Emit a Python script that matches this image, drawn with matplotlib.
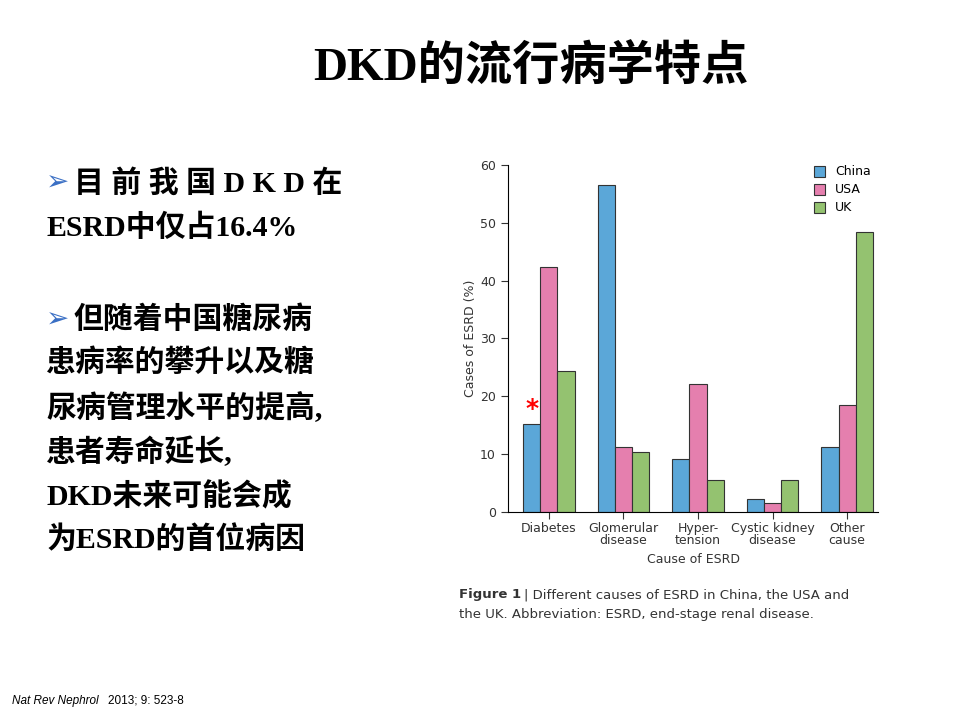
import matplotlib
matplotlib.use("Agg")
import matplotlib.pyplot as plt
import numpy as np

causes = ["Diabetes", "Glomerular\ndisease", "Hyper-\ntension", "Cystic kidney\ndisease", "Other\ncause"]
countries = ["China", "USA", "UK"]
china = [15.2, 56.6, 9.2, 2.3, 11.2]
usa = [42.3, 11.2, 22.1, 1.6, 18.4]
uk = [24.3, 10.3, 5.6, 5.6, 48.4]
y_ticks = [0, 10, 20, 30, 40, 50, 60]

COLORS = ["#5ba7d8", "#e57fae", "#94c270"]
EDGE = "#333333"
CJK = ["Liberation Serif", "Noto Sans CJK SC", "DejaVu Sans"]

fig = plt.figure(figsize=(9.6, 7.2), dpi=100)

fig.text(0.553, 0.905, "DKD的流行病学特点", ha="center", va="center",
         fontsize=34, fontweight="bold", family=CJK)

lines = [
    (183, "目 前 我 国 D K D 在", True),
    (228, "ESRD中仅占16.4%", False),
    (320, "但随着中国糖尿病", True),
    (363, "患病率的攀升以及糖", False),
    (407, "尿病管理水平的提高,", False),
    (452, "患者寿命延长,", False),
    (497, "DKD未来可能会成", False),
    (540, "为ESRD的首位病因", False),
]
for ypx, txt, arrow in lines:
    y = 1 - ypx / 720
    x = 0.048
    if arrow:
        fig.text(x, y, "➢", ha="left", va="center", fontsize=20,
                 color="#3a6fc4", family=["DejaVu Sans"])
        x = 0.077
    fig.text(x, y, txt, ha="left", va="center", fontsize=21.5,
             fontweight="bold", family=CJK)

fig.text(0.012, 0.027, "Nat Rev Nephrol", ha="left", va="center", fontsize=8.5,
         style="italic", family=["Liberation Sans"])
fig.text(0.112, 0.027, "2013; 9: 523-8", ha="left", va="center", fontsize=8.5,
         family=["Liberation Sans"])

ax = fig.add_axes([0.529, 0.289, 0.386, 0.482])
x = np.arange(len(causes))
w = 0.23
for i, (vals, name) in enumerate(zip([china, usa, uk], countries)):
    ax.bar(x + (i - 1) * w, vals, width=w, color=COLORS[i], edgecolor=EDGE,
           linewidth=0.8, label=name)
ax.text(x[0] - w, china[0] + 0.6, "*", color="red", fontsize=18,
        fontweight="bold", ha="center", va="bottom")

ax.set_ylim(0, 60)
ax.set_xlim(-0.55, 4.42)
ax.set_yticks(y_ticks)
ax.set_xticks(x)
ax.set_xticklabels(causes, fontsize=9, color="#333333", linespacing=0.95)
ax.tick_params(axis="y", labelsize=9, colors="#333333", length=5)
ax.tick_params(axis="x", length=5, colors="#333333", pad=2)
for s in ["top", "right"]:
    ax.spines[s].set_visible(False)
ax.set_ylabel("Cases of ESRD (%)", fontsize=9, color="#333333", labelpad=2)
ax.set_xlabel("Cause of ESRD", fontsize=9, color="#333333", labelpad=4)
ax.legend(loc="upper right", frameon=False, fontsize=9, handlelength=0.9,
          handleheight=1.0, borderaxespad=0.2, labelspacing=0.4,
          bbox_to_anchor=(1.0, 1.02))

fig.text(0.478, 0.174, "Figure 1", ha="left", va="center", fontsize=9.5,
         fontweight="bold", color="#333333")
fig.text(0.546, 0.174, "| Different causes of ESRD in China, the USA and",
         ha="left", va="center", fontsize=9.5, color="#333333")
fig.text(0.478, 0.147, "the UK. Abbreviation: ESRD, end-stage renal disease.",
         ha="left", va="center", fontsize=9.5, color="#333333")

fig.savefig("out.png", dpi=100)
